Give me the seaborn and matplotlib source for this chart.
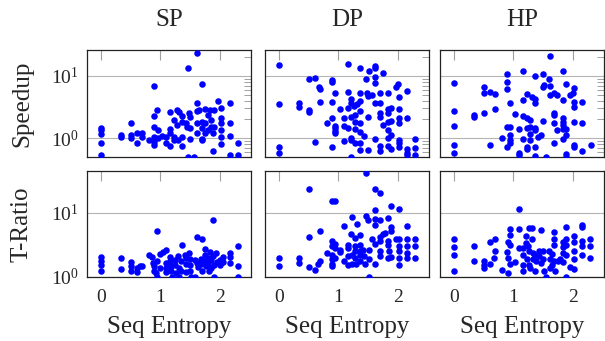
import matplotlib
matplotlib.use("Agg")
import matplotlib.pyplot as plt
import numpy as np
import pandas as pd
import seaborn as sns
from matplotlib.ticker import FixedLocator, LogFormatterMathtext, NullFormatter, NullLocator

# ---------------- data ----------------
columns = ["SP", "DP", "HP"]
row_labels = ["Speedup", "T-Ratio"]
x_ticks = [0, 1, 2]
x_tick_labels = ["0", "1", "2"]
x_label = "Seq Entropy"

sp_speedup_x = [1.61, 1.46, 0.90, 1.70, 0, 0, 0, 0, 0, 0.33, 0.33, 0.50, 0.50, 0.50, 0.61, 0.61, 0.69, 0.69,
                0.81, 0.90, 0.90, 0.90, 0.90, 0.90, 0.94, 0.96, 0.96, 1.03, 1.09, 1.09, 1.17, 1.17, 1.17, 1.17,
                1.23, 1.23, 1.23, 1.28, 1.31, 1.28, 1.30, 1.37, 1.37, 1.37, 1.37, 1.43, 1.45, 1.46, 1.57,
                1.49, 1.50, 1.50, 1.50, 1.61, 1.62, 1.61, 1.61, 1.66, 1.70, 1.70, 1.70, 1.70, 1.75, 1.76, 1.75,
                1.80, 1.81, 1.84, 1.86, 1.85, 1.89, 1.90, 1.90, 1.89, 1.97, 2.03, 2.03, 2.03, 2.03, 2.03, 2.03,
                2.17, 2.17, 2.17, 2.17, 2.31, 2.31]
sp_speedup_y = [23.7, 13.3, 6.9, 7.4, 1.48, 1.36, 1.17, 0.85, 0.53, 1.13, 1.04, 1.74, 1.13, 1.0, 1.20, 0.85, 1.20, 1.06,
                0.94, 2.28, 1.50, 1.06, 0.88, 0.78, 2.85, 1.36, 1.0, 1.09, 1.06, 0.85, 2.61, 1.41, 1.23, 0.75,
                1.97, 1.06, 0.94, 2.85, 2.68, 1.64, 0.94, 2.28, 1.85, 1.06, 0.75, 1.74, 1.54, 0.5, 0.5,
                2.58, 2.17, 1.45, 0.98, 3.73, 2.78, 1.78, 1.20, 2.85, 1.85, 1.45, 0.98, 0.92, 2.92, 1.78, 1.23,
                2.37, 1.36, 2.85, 1.97, 1.54, 1.20, 2.85, 1.50, 0.63, 3.97, 3.03, 2.09, 1.74, 1.36, 1.06, 0.80,
                3.73, 1.74, 1.09, 0.54, 0.85, 0.54]

dp_speedup_x = [0, 0, 0, 0, 0.33, 0.33, 0.50, 0.50, 0.50, 0.61, 0.61, 0.68, 0.69, 0.69, 0.81,
                0.89, 0.89, 0.89, 0.89, 0.89, 0.95, 0.95, 0.95, 0.95, 0.95, 1.03, 1.09, 1.09, 1.09,
                1.17, 1.17, 1.17, 1.17, 1.22, 1.22, 1.22, 1.22, 1.22, 1.22, 1.27, 1.28, 1.28, 1.28, 1.28,
                1.32, 1.36, 1.36, 1.36, 1.36, 1.36, 1.36, 1.36, 1.37, 1.43, 1.47, 1.48, 1.50, 1.50, 1.50,
                1.51, 1.57, 1.61, 1.61, 1.61, 1.61, 1.61, 1.61, 1.70, 1.70, 1.70, 1.70, 1.70, 1.70,
                1.75, 1.75, 1.84, 1.84, 1.84, 1.84, 1.84, 1.84, 1.84, 1.89, 1.89, 1.89, 1.89, 1.97, 2.00,
                2.03, 2.03, 2.03, 2.03, 2.03, 2.03, 2.03, 2.16, 2.16, 2.16, 2.16, 2.16, 2.30, 2.30, 2.30]
dp_speedup_y = [15.0, 3.56, 0.72, 0.57, 3.64, 3.22, 8.84, 2.85, 2.68, 9.4, 0.88, 6.7, 6.1, 3.87, 1.78,
                8.6, 8.1, 3.78, 2.15, 0.72, 5.27, 1.58, 1.45, 1.33, 1.20, 2.96, 2.15, 1.58, 0.91,
                15.4, 5.6, 3.03, 1.45, 4.28, 3.73, 2.23, 1.0, 0.94, 0.5, 3.30, 2.37, 1.85, 1.39, 0.83,
                3.56, 13.3, 5.27, 4.02, 2.78, 1.78, 1.28, 0.83, 0.65, 1.10, 8.84, 5.4, 4.78, 2.23, 0.65,
                12.0, 4.96, 14.5, 13.3, 9.75, 7.8, 3.64, 0.96, 5.4, 3.64, 2.58, 2.23, 0.75, 0.63,
                11.0, 1.64, 5.27, 2.92, 2.58, 1.85, 1.36, 1.0, 0.75, 3.03, 1.92, 1.13, 0.67, 6.7, 7.4,
                4.55, 2.92, 2.15, 1.78, 0.92, 0.85, 0.72, 5.74, 2.09, 0.67, 0.57, 0.53, 0.99, 0.69, 0.53]

hp_speedup_x = [1.61, 0, 0, 0, 0, 0, 0.33, 0.33, 0.50, 0.50, 0.50, 0.61, 0.69, 0.69, 0.61, 0.80,
                0.90, 0.90, 0.90, 0.90, 0.90, 0.94, 0.94, 0.94, 0.94, 0.94, 1.03, 1.09, 1.09, 1.09,
                1.16, 1.16, 1.16, 1.16, 1.23, 1.23, 1.23, 1.23, 1.23, 1.28, 1.28, 1.28, 1.28,
                1.31, 1.36, 1.36, 1.36, 1.36, 1.36, 1.36, 1.36, 1.42, 1.47, 1.50, 1.50, 1.50, 1.52, 1.55,
                1.60, 1.61, 1.61, 1.69, 1.69, 1.69, 1.69, 1.69, 1.73, 1.73,
                1.83, 1.83, 1.83, 1.83, 1.83, 1.83, 1.83, 1.88, 1.88, 1.88, 1.88, 1.88,
                1.96, 2.00, 2.02, 2.02, 2.02, 2.02, 2.02, 2.02, 2.16, 2.16, 2.16, 2.31]
hp_speedup_y = [21.2, 7.6, 2.78, 1.58, 0.78, 0.57, 2.37, 2.17, 6.7, 5.4, 2.52, 5.47, 5.14, 2.96, 0.77, 1.02,
                10.8, 8.1, 6.1, 1.50, 0.72, 3.64, 1.50, 1.13, 0.94, 0.85, 2.46, 1.39, 0.59, 0.54,
                12.0, 4.12, 2.28, 0.96, 5.14, 2.09, 1.45, 0.73, 0.67, 1.97, 1.50, 1.16, 0.94,
                4.55, 4.22, 3.64, 1.45, 1.36, 0.73, 0.52, 10.0, 1.06, 1.13, 10.8, 1.90, 6.7, 7.2, 0.5,
                8.84, 6.9, 4.96, 5.4, 2.58, 2.37, 1.78, 0.83, 4.96, 1.36,
                12.0, 4.12, 2.09, 1.85, 1.64, 1.39, 0.98, 7.35, 1.39, 1.13, 0.55, 0.5,
                4.96, 5.4, 6.34, 3.87, 3.22, 1.85, 0.78, 0.72, 0.63, 3.87, 1.78, 0.78]

sp_tratio_x = [1.89, 0.94, 1.61, 1.70, 1.36, 2.31, 1.76, 1.10, 1.04, 0.99, 0.81, 0, 0, 0, 0, 0.33, 0.33,
               0.50, 0.50, 0.50, 0.61, 0.61, 0.65, 0.69, 0.86, 0.88, 0.90, 0.90, 0.93, 0.94, 0.94, 0.99,
               1.09, 1.09, 1.10, 1.17, 1.17, 1.18, 1.18, 1.20, 1.24, 1.24, 1.27, 1.30, 1.31, 1.32,
               1.35, 1.35, 1.41, 1.43, 1.44, 1.44, 1.49, 1.50, 1.50, 1.50, 1.52, 1.58, 1.58, 1.62, 1.63,
               1.69, 1.69, 1.71, 1.75, 1.76, 1.77, 1.80, 1.80, 1.82, 1.84, 1.86, 1.86, 1.89, 1.90, 1.90,
               1.94, 1.95, 2.00, 2.01, 2.06, 2.06, 2.17, 2.17, 2.17, 2.31, 2.31]
sp_tratio_y = [7.87, 5.17, 4.27, 3.97, 3.20, 3.01, 2.77, 2.67, 2.46, 2.29, 2.23, 2.03, 1.76, 1.52, 1.26, 1.98, 1.33,
               1.71, 1.47, 1.26, 1.38, 1.20, 1.47, 1.47, 2.03, 1.65, 1.47, 1.26, 1.15, 1.0, 1.76, 1.38,
               1.65, 1.38, 1.20, 2.03, 1.76, 1.47, 1.26, 1.0, 1.87, 1.56, 1.15, 2.10, 1.38, 1.0,
               1.76, 1.26, 2.23, 1.98, 1.60, 1.20, 2.37, 1.93, 1.56, 1.23, 1.0, 1.0, 1.87, 1.65, 1.42,
               1.93, 1.60, 1.26, 2.18, 1.76, 1.47, 1.98, 1.60, 1.26, 2.43, 1.87, 1.38, 2.10, 1.56, 1.0,
               2.37, 1.71, 1.87, 1.56, 2.03, 1.71, 2.37, 2.03, 1.65, 1.47, 1.0]

dp_tratio_x = [1.47, 0.50, 1.61, 1.70, 0.89, 0.95, 1.89, 2.03, 1.61, 1.47, 1.50, 1.23, 1.31, 1.61, 1.70, 1.84,
               1.09, 1.61, 0.69, 0.50, 1.22, 1.28, 1.36, 1.57, 0.89, 0.95, 0.89, 0.95, 1.03,
               0.81, 0.89, 0.89, 0.89, 0.89, 0.95, 1.03, 1.09, 1.17, 1.17, 1.17, 1.17, 1.23, 1.23,
               1.28, 1.28, 1.28, 1.30, 1.36, 1.36, 1.36, 1.37, 1.41, 1.43, 1.45, 1.51, 1.51, 1.51,
               1.61, 1.61, 1.70, 1.70, 1.70, 1.71, 1.75, 1.78, 1.84, 1.84, 1.85, 1.84, 1.89, 1.89, 1.89,
               1.97, 2.03, 2.03, 2.03, 2.03, 2.03, 2.16, 2.16, 2.16, 2.16, 2.16, 2.30, 2.30, 2.30,
               0, 0, 0.33, 0.33, 0.50, 0.61, 0.66, 0.69]
dp_tratio_y = [42.2, 24.0, 23.2, 20.5, 15.2, 15.2, 12.7, 11.3, 10.9, 8.87, 7.87, 8.55, 6.81, 8.06, 7.87, 8.35,
               6.34, 6.41, 5.30, 4.17, 4.70, 4.07, 4.48, 3.97, 3.61, 3.28, 3.01, 2.84, 2.67,
               2.37, 2.18, 1.93, 1.60, 1.47, 1.98, 2.46, 1.76, 3.20, 2.84, 2.10, 1.56, 2.18, 1.60,
               3.01, 2.52, 1.98, 1.60, 3.20, 2.58, 2.18, 1.80, 2.67, 2.10, 1.60, 2.67, 1.93, 1.0,
               3.28, 1.62, 4.17, 3.61, 2.52, 2.10, 4.70, 4.87, 3.70, 3.12, 2.52, 1.98, 5.97, 5.30, 2.03,
               3.97, 3.97, 3.01, 2.58, 1.98, 1.52, 6.34, 3.97, 3.01, 2.37, 1.98, 3.97, 3.01, 1.98,
               1.98, 1.47, 1.98, 1.65, 1.42, 1.30, 1.60, 1.76]

hp_tratio_x = [1.09, 0.94, 1.09, 1.27, 1.31, 1.47, 2.16, 2.16, 1.88, 1.69, 1.69, 0, 0, 0, 0,
               0.94, 1.22, 1.31, 2.02, 2.16, 2.30, 1.89, 1.83, 0.69, 0.61, 0.91, 0.94, 0.33, 0.33,
               0.50, 0.50, 0.50, 0.61, 0.69, 0.68, 0.80, 0.91, 0.90, 0.91, 0.95, 1.02,
               1.09, 1.16, 1.16, 1.16, 1.16, 1.22, 1.24, 1.23, 1.27, 1.28, 1.27, 1.33, 1.33,
               1.36, 1.38, 1.36, 1.43, 1.44, 1.47, 1.50, 1.50, 1.51, 1.55, 1.60, 1.61, 1.61,
               1.65, 1.66, 1.71, 1.69, 1.69, 1.75, 1.78, 1.83, 1.84, 1.83, 1.88, 1.89, 1.89,
               2.02, 2.02, 2.02, 1.96, 2.03, 2.16, 2.16, 2.30, 2.30]
hp_tratio_y = [11.7, 5.62, 5.62, 5.83, 5.83, 5.49, 6.57, 6.11, 6.04, 4.99, 3.97, 3.97, 2.91, 2.18, 1.23,
               4.48, 4.32, 3.97, 4.42, 3.61, 3.97, 3.97, 3.52, 3.93, 3.48, 3.52, 3.12, 3.01, 1.76,
               1.76, 1.52, 1.38, 1.62, 2.58, 1.98, 1.30, 1.15, 2.46, 1.98, 1.60, 1.71,
               2.84, 2.84, 2.23, 1.56, 1.23, 3.40, 3.01, 1.93, 1.56, 1.38, 2.58, 2.37, 1.93,
               2.23, 1.76, 1.23, 2.10, 2.52, 1.65, 2.52, 1.93, 1.26, 1.0, 2.58, 1.93, 1.38,
               2.29, 1.56, 1.23, 3.20, 1.76, 1.76, 1.93, 2.91, 2.37, 1.71, 3.20, 2.23, 1.0,
               3.52, 2.58, 1.93, 1.42, 1.33, 3.01, 2.18, 3.01, 1.98]

x_limits = (-0.24, 2.53)
y_limits = {"Speedup": (0.5, 26), "T-Ratio": (1.0, 45)}
y_major = [1, 10]

panels = {
    ("Speedup", "SP"): (sp_speedup_x, sp_speedup_y),
    ("Speedup", "DP"): (dp_speedup_x, dp_speedup_y),
    ("Speedup", "HP"): (hp_speedup_x, hp_speedup_y),
    ("T-Ratio", "SP"): (sp_tratio_x, sp_tratio_y),
    ("T-Ratio", "DP"): (dp_tratio_x, dp_tratio_y),
    ("T-Ratio", "HP"): (hp_tratio_x, hp_tratio_y),
}
frames = []
for (metric, col), (xs, ys) in panels.items():
    frames.append(pd.DataFrame({"metric": metric, "variant": col, "entropy": xs, "value": ys}))
df = pd.concat(frames, ignore_index=True)

# ---------------- style ----------------
sns.set_theme(style="white")
plt.rcParams["font.family"] = ["Liberation Serif", "DejaVu Serif"]
plt.rcParams["mathtext.fontset"] = "stix"

W, H = 605, 341
fig = plt.figure(figsize=(W / 100, H / 100), dpi=100)

col_left_px = [87, 265, 440]
col_width_px = 164
row_top_px = [50, 171]
row_height_px = [107, 106]
label_size = 18
tick_size = 14

for r, metric in enumerate(row_labels):
    for c, col in enumerate(columns):
        left = col_left_px[c] / W
        bottom = 1 - (row_top_px[r] + row_height_px[r]) / H
        ax = fig.add_axes([left, bottom, col_width_px / W, row_height_px[r] / H])
        sub = df[(df.metric == metric) & (df.variant == col)]
        sns.scatterplot(data=sub, x="entropy", y="value", ax=ax, color="#0000ff",
                        s=22, linewidth=0, legend=False, zorder=3)
        ax.set_yscale("log")
        ax.set_xlim(*x_limits)
        ax.set_ylim(*y_limits[metric])
        ax.xaxis.set_major_locator(FixedLocator(x_ticks))
        ax.yaxis.set_major_locator(FixedLocator(y_major))
        if r == 0:
            ax.yaxis.set_minor_locator(FixedLocator([0.5, 0.6, 0.7, 0.8, 0.9, 2, 3, 4, 5, 6, 7, 8, 9, 20]))
        else:
            ax.yaxis.set_minor_locator(NullLocator())
        ax.yaxis.set_minor_formatter(NullFormatter())
        ax.xaxis.set_minor_locator(NullLocator())
        ax.grid(axis="y", which="major", color="#b4b4b4", lw=0.8, zorder=1)
        ax.tick_params(axis="both", which="both", direction="in", top=True, right=True)
        ax.tick_params(axis="x", which="major", length=7, width=0.8, color="#a0a0a0",
                       labelsize=tick_size, pad=9)
        ax.tick_params(axis="y", which="major", length=0, labelsize=tick_size, pad=6)
        ax.tick_params(axis="y", which="minor", length=5, width=0.6, color="#909090")
        for sp in ax.spines.values():
            sp.set_color("#222222")
            sp.set_linewidth(0.9)
        if c == 0:
            ax.yaxis.set_major_formatter(LogFormatterMathtext())
            ax.set_ylabel(metric, fontsize=label_size)
            ax.yaxis.set_label_coords(-0.33, 0.5)
        else:
            ax.set_yticklabels([])
            ax.set_ylabel("")
        if r == 1:
            ax.set_xticklabels(x_tick_labels)
            ax.set_xlabel(x_label, fontsize=label_size)
            ax.xaxis.set_label_coords(0.5, -0.37)
        else:
            ax.set_xticklabels([])
            ax.set_xlabel("")
            ax.set_title(col, fontsize=label_size, pad=17)

fig.savefig("out.png", dpi=100)
